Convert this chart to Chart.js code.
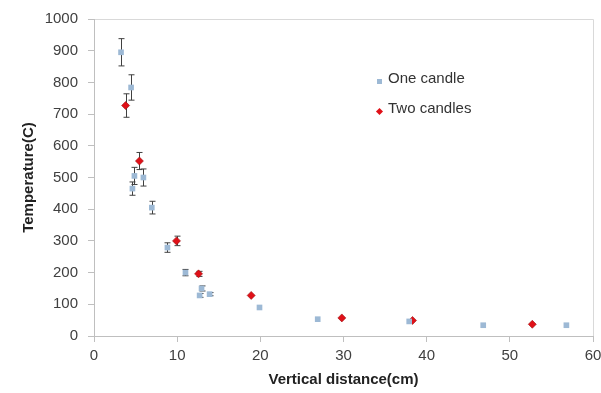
<!DOCTYPE html>
<html>
<head>
<meta charset="utf-8">
<script src="https://cdn.jsdelivr.net/npm/chart.js@4.4.0/dist/chart.umd.min.js"></script>
<style>
    html, body { margin: 0; padding: 0; background: #fff; }
    #wrap { position: relative; width: 601px; height: 393px; }
    #legend { position: absolute; left: 374px; top: 66px; font: 15px 'Liberation Sans', Arial, sans-serif; color: #333; }
    #legend div { height: 30px; line-height: 24px; white-space: nowrap; }
    #legend span.mk { display: inline-block; width: 10px; margin-right: 4px; text-align: center; vertical-align: middle; }
    .sq { display: inline-block; width: 5px; height: 5px; background: #9db9d5; }
    .dm { display: inline-block; width: 5px; height: 5px; background: #e01018; transform: rotate(45deg); }
</style>
</head>
<body>
<div id="wrap">
    <canvas id="chart" width="601" height="393"></canvas>
    <div id="legend">
        <div><span class="mk"><span class="sq"></span></span>One candle</div>
        <div><span class="mk"><span class="dm"></span></span>Two candles</div>
    </div>
</div>
<script>
// One candle
const oneX = [3.25, 4.46, 4.62, 4.86, 5.94, 6.95, 8.83, 11.0, 12.7, 12.93, 13.9, 19.9, 26.9, 37.9, 46.8, 56.8];
const oneY = [895, 784, 465, 505, 500, 405, 279, 200, 128, 150, 132, 90, 53, 46, 34, 34];
const oneErr = [43, 40, 21, 27, 27, 20, 15, 10, 6, 8, 5, 0, 0, 0, 0, 0];

// Two candles
const twoX = [3.8, 5.46, 9.92, 12.57, 18.9, 29.8, 38.3, 52.7];
const twoY = [727, 552, 300, 196, 128, 57, 49, 37];
const twoErr = [37, 27, 15, 8, 0, 0, 0, 0];

const fontFam = "'Liberation Sans', Arial, sans-serif";

function toPoints(xs, ys, errs) {
    return xs.map((x, i) => ({ x: x, y: ys[i], err: errs[i] }));
}

// draws vertical error bars with caps, behind the markers
const errorBars = {
    id: 'errorBars',
    beforeDatasetsDraw(chart) {
        const ctx = chart.ctx;
        const xs = chart.scales.x;
        const ys = chart.scales.y;
        ctx.save();
        ctx.strokeStyle = '#404040';
        ctx.lineWidth = 1;
        chart.data.datasets.forEach(ds => {
            ds.data.forEach(p => {
                if (!p.err) return;
                const px = Math.round(xs.getPixelForValue(p.x)) + 0.5;
                const top = ys.getPixelForValue(p.y + p.err);
                const bot = ys.getPixelForValue(p.y - p.err);
                ctx.beginPath();
                ctx.moveTo(px, top);
                ctx.lineTo(px, bot);
                ctx.moveTo(px - 3, top);
                ctx.lineTo(px + 3, top);
                ctx.moveTo(px - 3, bot);
                ctx.lineTo(px + 3, bot);
                ctx.stroke();
            });
        });
        ctx.restore();
    }
};

// light frame on top and right of the plot area
const frame = {
    id: 'frame',
    beforeDraw(chart) {
        const a = chart.chartArea;
        const ctx = chart.ctx;
        ctx.save();
        ctx.strokeStyle = '#d9d9d9';
        ctx.lineWidth = 1;
        ctx.beginPath();
        ctx.moveTo(a.left, a.top + 0.5);
        ctx.lineTo(a.right + 0.5, a.top + 0.5);
        ctx.lineTo(a.right + 0.5, a.bottom);
        ctx.stroke();
        ctx.restore();
    }
};

new Chart(document.getElementById('chart').getContext('2d'), {
    type: 'scatter',
    data: {
        datasets: [
            {
                label: 'One candle',
                data: toPoints(oneX, oneY, oneErr),
                pointStyle: 'rect',
                pointRadius: 4,
                backgroundColor: '#9db9d5',
                borderColor: '#8fadcc',
                borderWidth: 0
            },
            {
                label: 'Two candles',
                data: toPoints(twoX, twoY, twoErr),
                pointStyle: 'rectRot',
                pointRadius: 4,
                backgroundColor: '#e01018',
                borderColor: '#9a1010',
                borderWidth: 0.6
            }
        ]
    },
    options: {
        responsive: false,
        animation: false,
        layout: { padding: { left: 0, top: 17, right: 0, bottom: 0 } },
        plugins: {
            legend: { display: false },
            tooltip: { enabled: false }
        },
        scales: {
            x: {
                type: 'linear',
                min: 0,
                max: 60,
                ticks: { stepSize: 10, color: '#404040', font: { family: fontFam, size: 15 }, padding: 5 },
                grid: { drawOnChartArea: false, drawTicks: true, tickLength: 6, color: '#bfbfbf' },
                border: { color: '#bfbfbf' },
                title: { display: true, text: 'Vertical distance(cm)', color: '#222', font: { family: fontFam, size: 15, weight: 'bold' }, padding: { top: 0 } },
                afterFit(scale) { scale.height = 57; scale.paddingRight = 8; }
            },
            y: {
                type: 'linear',
                min: 0,
                max: 1000,
                ticks: { stepSize: 100, color: '#404040', font: { family: fontFam, size: 15 }, padding: 10,
                    callback: v => String(v) },
                grid: { drawOnChartArea: false, drawTicks: true, tickLength: 6, color: '#bfbfbf' },
                border: { color: '#bfbfbf' },
                title: { display: true, text: 'Temperature(C)', color: '#222', font: { family: fontFam, size: 15, weight: 'bold' }, padding: { top: 20, bottom: 0 } },
                afterFit(scale) { scale.width = 94; }
            }
        }
    },
    plugins: [frame, errorBars]
});
</script>
</body>
</html>
